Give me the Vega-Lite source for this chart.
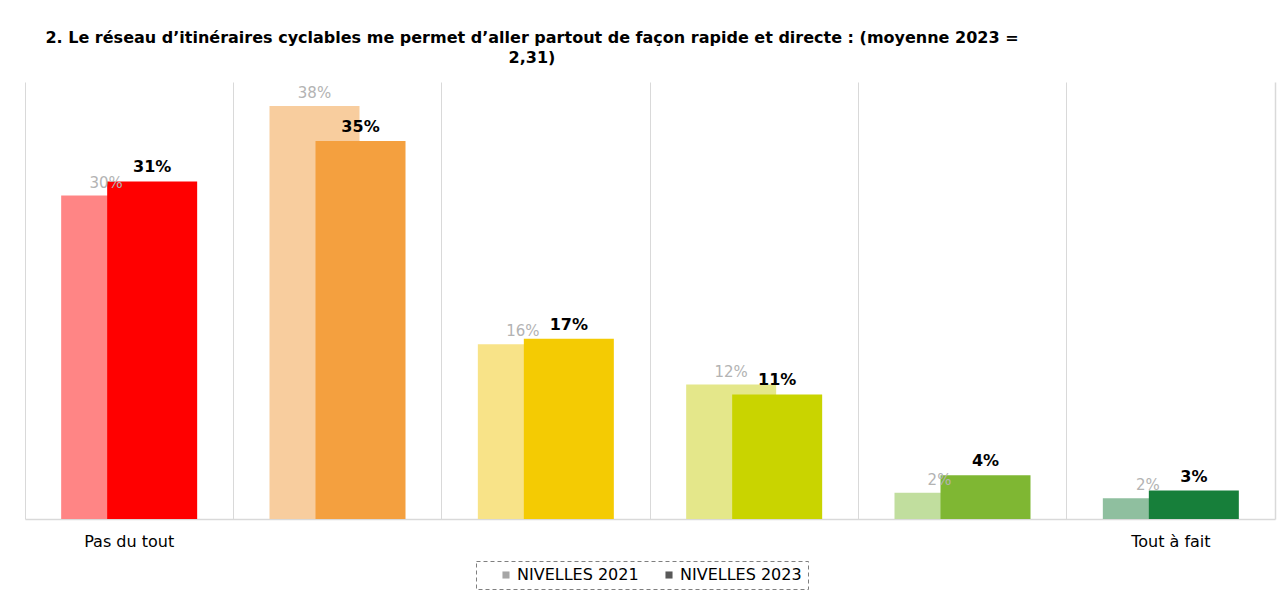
{
  "$schema": "https://vega.github.io/schema/vega-lite/v6.json",
  "width": 1250,
  "height": 437,
  "autosize": "none",
  "padding": {"left": 25, "top": 82, "right": 5, "bottom": 72},
  "background": "white",
  "title": {
    "text": ["2. Le réseau d’itinéraires cyclables me permet d’aller partout de façon rapide et directe : (moyenne 2023 =", "2,31)"],
    "font": "DejaVu Sans",
    "fontSize": 16,
    "fontWeight": "bold",
    "color": "#000000",
    "anchor": "middle",
    "dx": -118,
    "offset": 16,
    "lineHeight": 20
  },
  "data": {
    "values": [
      {"cat": "1", "series": "NIVELLES 2021", "value": 0.296},
      {"cat": "2", "series": "NIVELLES 2021", "value": 0.378},
      {"cat": "3", "series": "NIVELLES 2021", "value": 0.160},
      {"cat": "4", "series": "NIVELLES 2021", "value": 0.123},
      {"cat": "5", "series": "NIVELLES 2021", "value": 0.024},
      {"cat": "6", "series": "NIVELLES 2021", "value": 0.019},
      {"cat": "1", "series": "NIVELLES 2023", "value": 0.309},
      {"cat": "2", "series": "NIVELLES 2023", "value": 0.346},
      {"cat": "3", "series": "NIVELLES 2023", "value": 0.165},
      {"cat": "4", "series": "NIVELLES 2023", "value": 0.114},
      {"cat": "5", "series": "NIVELLES 2023", "value": 0.040},
      {"cat": "6", "series": "NIVELLES 2023", "value": 0.026}
    ]
  },
  "encoding": {
    "x": {
      "field": "cat",
      "type": "nominal",
      "sort": ["1", "2", "3", "4", "5", "6"],
      "scale": {"paddingInner": 0, "paddingOuter": 0},
      "axis": {
        "title": null,
        "bandPosition": 0,
        "grid": true,
        "gridColor": "#d9d9d9",
        "gridWidth": 1,
        "domainColor": "#d9d9d9",
        "domainWidth": 1.5,
        "ticks": false,
        "labelAngle": 0,
        "labelFont": "DejaVu Sans",
        "labelFontSize": 16,
        "labelColor": "#000000",
        "labelPadding": 14,
        "labelExpr": "datum.value === '1' ? 'Pas du tout' : (datum.value === '6' ? 'Tout à fait' : '')"
      }
    },
    "y": {
      "field": "value",
      "type": "quantitative",
      "scale": {"domain": [0, 0.40], "nice": false},
      "axis": {
        "orient": "right",
        "title": null,
        "labels": false,
        "ticks": false,
        "grid": false,
        "domainColor": "#d9d9d9",
        "domainWidth": 1.5
      }
    }
  },
  "layer": [
    {
      "transform": [{"filter": "datum.series === 'NIVELLES 2021'"}],
      "mark": {"type": "square", "opacity": 0, "size": 10},
      "encoding": {
        "color": {
          "field": "series",
          "type": "nominal",
          "scale": {"domain": ["NIVELLES 2021", "NIVELLES 2023"], "range": ["#a6a6a6", "#595959"]},
          "legend": {
            "title": null,
            "orient": "none",
            "legendX": 451,
            "legendY": 479,
            "direction": "horizontal",
            "symbolType": "square",
            "symbolSize": 50,
            "symbolOpacity": 1,
            "symbolOffset": 16,
            "labelFont": "DejaVu Sans",
            "labelFontSize": 16,
            "labelColor": "#000000",
            "labelOffset": 3,
            "columnPadding": 6,
            "padding": 6,
            "strokeColor": "#7f7f7f",
            "values": ["NIVELLES 2021", "NIVELLES 2023"],
            "encode": {"legend": {"update": {"strokeDash": {"value": [4, 3]}, "width": {"value": 338}}}}
          }
        }
      }
    },
    {
      "transform": [{"filter": "datum.series === 'NIVELLES 2021'"}],
      "mark": {"type": "bar", "xOffset": -23, "width": 90},
      "encoding": {
        "color": {
          "field": "cat",
          "type": "nominal",
          "scale": {"domain": ["1", "2", "3", "4", "5", "6"], "range": ["#ff8585", "#f8cd9e", "#f8e388", "#e4e78a", "#c1de9e", "#8fbf9f"]},
          "legend": null
        }
      }
    },
    {
      "transform": [{"filter": "datum.series === 'NIVELLES 2023'"}],
      "mark": {"type": "bar", "xOffset": 23, "width": 90},
      "encoding": {
        "color": {
          "field": "cat",
          "type": "nominal",
          "scale": {"domain": ["1", "2", "3", "4", "5", "6"], "range": ["#ff0000", "#f4a03f", "#f4cb03", "#c9d400", "#7fb733", "#177f3a"]},
          "legend": null
        }
      }
    },
    {
      "transform": [{"filter": "datum.series === 'NIVELLES 2021'"}],
      "mark": {"type": "text", "xOffset": -23, "dy": -5, "baseline": "bottom", "font": "DejaVu Sans", "fontSize": 15, "color": "#b3b3b3"},
      "encoding": {
        "text": {"field": "value", "type": "quantitative", "format": ".0%"}
      }
    },
    {
      "transform": [{"filter": "datum.series === 'NIVELLES 2023'"}],
      "mark": {"type": "text", "xOffset": 23, "dy": -6, "baseline": "bottom", "font": "DejaVu Sans", "fontSize": 16, "fontWeight": "bold", "color": "#000000"},
      "encoding": {
        "text": {"field": "value", "type": "quantitative", "format": ".0%"}
      }
    }
  ],
  "resolve": {"scale": {"color": "independent"}},
  "config": {
    "view": {"stroke": null}
  }
}
